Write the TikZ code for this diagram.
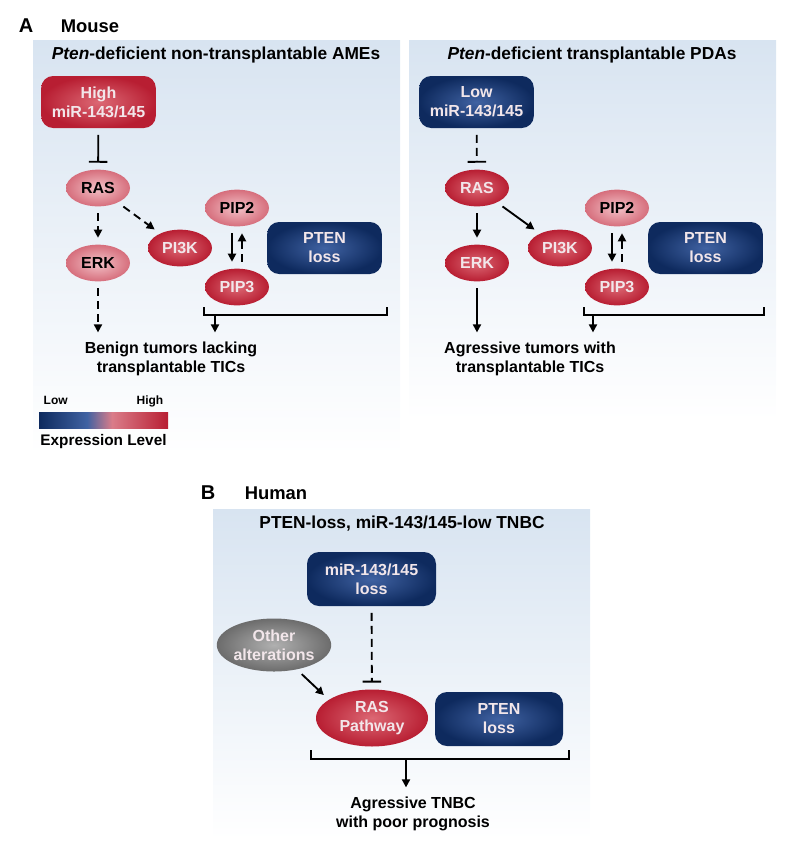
\documentclass[tikz,border=0pt]{standalone}
\usepackage{fontspec}
\setmainfont{Liberation Sans}
\usetikzlibrary{arrows.meta,shapes.geometric}

\definecolor{redEdge}{RGB}{184,30,50}
\definecolor{redMid}{RGB}{220,104,116}
\definecolor{pinkEdge}{RGB}{214,110,124}
\definecolor{pinkMid}{RGB}{243,194,200}
\definecolor{blueEdge}{RGB}{14,42,94}
\definecolor{blueMid}{RGB}{64,98,162}
\definecolor{grayEdge}{RGB}{108,108,108}
\definecolor{grayMid}{RGB}{176,176,176}
\definecolor{panelTop}{RGB}{216,228,241}
\definecolor{nodeText}{RGB}{242,230,234}

\begin{document}
\begin{tikzpicture}
      [x=0.75pt,y=-0.75pt,
       lbl/.style={font=\fontsize{12}{14.3}\selectfont\bfseries,align=center,inner sep=2pt},
       head/.style={font=\fontsize{13}{15}\selectfont\bfseries,anchor=base},
       redell/.style={lbl,ellipse,inner sep=0pt,minimum width=48pt,minimum height=27.5pt,
                      inner color=redMid,outer color=redEdge,text=nodeText},
       pinkell/.style={redell,inner color=pinkMid,outer color=pinkEdge,text=black},
       redbox/.style={lbl,rounded corners=9pt,minimum width=86pt,minimum height=39pt,
                      inner color=redMid,outer color=redEdge,text=nodeText},
       bluebox/.style={redbox,inner color=blueMid,outer color=blueEdge},
       arr/.style={-{Triangle[length=6pt,width=6pt]},line width=1.4pt,
                   shorten <=5pt,shorten >=5pt},
       inh/.style={-{Bar[width=14pt]},line width=1.4pt,shorten <=5pt,shorten >=5pt},
       dsh/.style={dash pattern=on 6pt off 3.75pt},
       brk/.style={line width=1.5pt}]
      \useasboundingbox (0,0) rectangle (790,847);

      % panels
      \shade [top color=panelTop,bottom color=white] (33,40) rectangle (400,455);
      \shade [top color=panelTop,bottom color=white] (409,40) rectangle (776,420);
      \shade [top color=panelTop,bottom color=white] (213,509) rectangle (590,840);

      % A: mouse
      \node [font=\fontsize{15}{18}\selectfont\bfseries,anchor=base] (labA) at (26,32) {A};
      \node [font=\fontsize{13.8}{16}\selectfont\bfseries,anchor=base] (mouse) at (90,32) {Mouse};
      \node [head] (titleA) at (216,59) {\textit{Pten}-deficient non-transplantable AMEs};
      \node [head] (titleA2) at (592,59) {\textit{Pten}-deficient transplantable PDAs};

      % left: AMEs
      \node [redbox] (hiMir) at (98.5,102) {High\\miR-143/145};
      \node [pinkell] (rasA) at (98,188) {RAS};
      \node [pinkell] (erkA) at (98,263) {ERK};
      \node [redell] (pi3kA) at (180,248) {PI3K};
      \node [pinkell] (pip2A) at (237,208) {PIP2};
      \node [redell] (pip3A) at (237,287) {PIP3};
      \node [bluebox] (ptenA) at (324.5,248) {PTEN\\loss};
      \node [lbl] (benign) at (171,359) {Benign tumors lacking\\transplantable TICs};
      \coordinate (brA) at (215,315);

      \draw [inh] (hiMir) -- (rasA);
      \draw [arr,dsh] (rasA) -- (erkA);
      \draw [arr,dsh] (rasA) -- (pi3kA);
      \draw [arr,dsh] (erkA) -- (erkA |- benign.north);
      \draw [arr] ([xshift=-3.75pt]pip2A.south) -- ([xshift=-3.75pt]pip3A.north);
      \draw [arr,dsh] ([xshift=3.75pt]pip3A.north) -- ([xshift=3.75pt]pip2A.south);
      \draw [brk] (204,307) -- (204,315) -- (387,315) -- (387,307);
      \draw [arr,shorten <=0pt] (brA) -- (brA |- benign.north);

      % right: PDAs
      \node [bluebox] (loMir) at (476.5,102) {Low\\miR-143/145};
      \node [redell] (rasA2) at (477,188) {RAS};
      \node [redell] (erkA2) at (477,263) {ERK};
      \node [redell] (pi3kA2) at (560,248) {PI3K};
      \node [pinkell] (pip2A2) at (617,208) {PIP2};
      \node [redell] (pip3A2) at (617,287) {PIP3};
      \node [bluebox] (ptenA2) at (705.5,248) {PTEN\\loss};
      \node [lbl] (aggr) at (530,359) {Agressive tumors with\\transplantable TICs};
      \coordinate (brA2) at (593,315);

      \draw [inh,dsh] (loMir) -- (rasA2);
      \foreach \from/\to in {rasA2/erkA2, rasA2/pi3kA2}
      \draw [arr] (\from) -- (\to);
      \draw [arr] (erkA2) -- (erkA2 |- aggr.north);
      \draw [arr] ([xshift=-3.75pt]pip2A2.south) -- ([xshift=-3.75pt]pip3A2.north);
      \draw [arr,dsh] ([xshift=3.75pt]pip3A2.north) -- ([xshift=3.75pt]pip2A2.south);
      \draw [brk] (584,307) -- (584,315) -- (764,315) -- (764,307);
      \draw [arr,shorten <=0pt] (brA2) -- (brA2 |- aggr.north);

      % legend
      \node [font=\fontsize{9}{11}\selectfont\bfseries,anchor=base west] (low) at (39,404) {Low};
      \node [font=\fontsize{9}{11}\selectfont\bfseries,anchor=base east] (high) at (168,404) {High};
      \shade [left color=blueEdge,right color=blueMid] (39,412) rectangle (87,428);
      \shade [left color=blueMid,right color=pinkEdge!90!white] (87,412) rectangle (112,428);
      \shade [left color=pinkEdge!90!white,right color=redEdge] (112,412) rectangle (168,428);
      \node [font=\fontsize{11.5}{14}\selectfont\bfseries,anchor=base] (expr) at (103.5,445) {Expression Level};

      % B: human
      \node [font=\fontsize{15}{18}\selectfont\bfseries,anchor=base] (labB) at (208,499) {B};
      \node [font=\fontsize{13.8}{16}\selectfont\bfseries,anchor=base] (human) at (276,499) {Human};
      \node [head] (titleB) at (402,528) {PTEN-loss, miR-143/145-low TNBC};

      \node [bluebox,minimum width=96.75pt,minimum height=40.5pt] (mirB) at (371.5,579) {miR-143/145\\loss};
      \node [redell,minimum width=75pt,minimum height=39.75pt,inner color=grayMid,outer color=grayEdge]
            (other) at (274,645) {Other\\alterations};
      \node [redell,minimum width=84pt,minimum height=42.75pt] (rasB) at (372,718) {RAS\\Pathway};
      \node [bluebox,minimum width=96pt,minimum height=40.5pt] (ptenB) at (499,719) {PTEN\\loss};
      \node [lbl] (tnbc) at (413,814) {Agressive TNBC\\with poor prognosis};
      \coordinate (brB) at (406,759);

      \draw [inh,dsh] (mirB) -- (rasB);
      \draw [arr] (other.-47) -- (rasB.157);
      \draw [brk] (311,750) -- (311,759) -- (569,759) -- (569,750);
      \draw [arr,shorten <=0pt] (brB) -- (brB |- tnbc.north);
    \end{tikzpicture}
\end{document}
